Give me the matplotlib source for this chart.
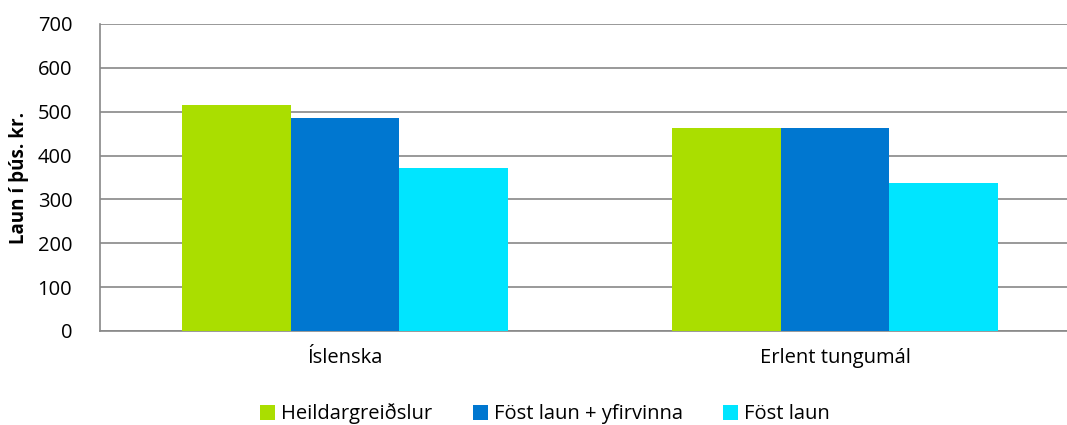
import matplotlib
matplotlib.use("Agg")
import matplotlib.pyplot as plt
import numpy as np

plt.rcParams['font.family'] = ['Open Sans', 'DejaVu Sans']

categories = ["Íslenska", "Erlent tungumál"]
series_names = ["Heildargreiðslur", "Föst laun + yfirvinna", "Föst laun"]
heildar = [515, 463]
fost_yfir = [485, 463]
fost = [371, 337]
colors = ["#AADE00", "#0077D0", "#00E5FF"]
yticks = [0, 100, 200, 300, 400, 500, 600, 700]

fig = plt.figure(figsize=(10.67, 4.25), dpi=100)
ax = fig.add_axes([100/1067, 1-331/425, 980/1067, 307/425])

x = np.arange(len(categories))
w = 1/4.5
for i, (vals, name, c) in enumerate(zip([heildar, fost_yfir, fost], series_names, colors)):
    ax.bar(x + (i-1)*w, vals, width=w, color=c, label=name, zorder=3)

ax.set_xlim(-0.5, 1.5)
ax.set_ylim(0, 700)
ax.set_yticks(yticks)
ax.set_xticks(x)
ax.set_xticklabels(categories)
ax.yaxis.grid(True, color="#888888", linewidth=1.2, zorder=0)
for s in ["top", "right"]:
    ax.spines[s].set_visible(False)
for s in ["left", "bottom"]:
    ax.spines[s].set_color("#888888")
    ax.spines[s].set_linewidth(1.2)
ax.tick_params(axis='both', length=0, labelsize=14.5, colors="black")
ax.tick_params(axis='y', pad=20)
ax.tick_params(axis='x', pad=12)
ax.set_ylabel("Laun í þús. kr.", fontsize=13.5, fontweight='bold', labelpad=6)

fig.legend(loc='center', bbox_to_anchor=(545/1067, 1-414/425), ncol=3, frameon=False,
           fontsize=14.5, handlelength=0.75, handleheight=0.75, handletextpad=0.3,
           columnspacing=2.0)

fig.savefig("out.png", dpi=100)
